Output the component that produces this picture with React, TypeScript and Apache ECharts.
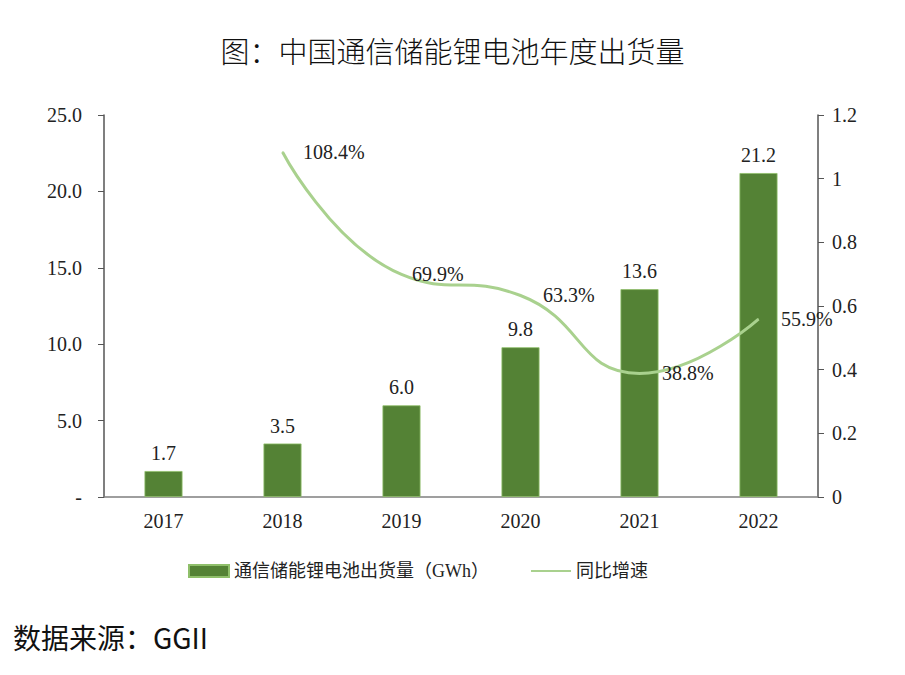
import * as echarts from 'echarts';
import { useEffect, useRef } from 'react';

const years = ['2017', '2018', '2019', '2020', '2021', '2022'];
const shipments = [1.7, 3.5, 6.0, 9.8, 13.6, 21.2];
const growth = [null, 1.084, 0.699, 0.633, 0.388, 0.559];
// label gap to the right of each growth point
const growthLabelGap = [20, 20, 10, 22, 22, 22];

const SERIF = "'Liberation Serif', 'Times New Roman', 'Noto Sans CJK SC', serif";
const SANS = "'Noto Sans CJK SC', 'Liberation Sans', sans-serif";

const App = () => {
    const chartRef = useRef<HTMLDivElement>(null);

    useEffect(() => {
        document.body.style.margin = '0';
        if (!chartRef.current) return;
        const chart = echarts.init(chartRef.current, null, { renderer: 'svg' });

        chart.setOption({
            animation: false,
            backgroundColor: '#fff',
            title: {
                text: '图：中国通信储能锂电池年度出货量',
                left: 'center',
                top: 30,
                textStyle: { fontFamily: SANS, fontSize: 29, fontWeight: 300, color: '#111' },
            },
            legend: {
                top: 557,
                left: 183,
                itemGap: 42,
                itemWidth: 40,
                itemHeight: 12,
                textStyle: { fontFamily: SERIF, fontSize: 18, color: '#222' },
                data: [
                    { name: '通信储能锂电池出货量（GWh）', icon: 'rect' },
                    { name: '同比增速', icon: 'path://M0,5L40,5L40,7L0,7Z' },
                ],
            },
            grid: { left: 104, right: 87, top: 115, bottom: 178 },
            xAxis: {
                type: 'category',
                data: years,
                axisLine: { lineStyle: { color: '#7f7f7f', width: 1.5 } },
                axisTick: { show: false },
                axisLabel: { fontFamily: SERIF, fontSize: 20, color: '#222', margin: 14 },
            },
            yAxis: [
                {
                    type: 'value',
                    min: 0,
                    max: 25,
                    interval: 5,
                    splitLine: { show: false },
                    axisLine: { show: true, lineStyle: { color: '#555', width: 1.5 } },
                    axisTick: { show: true, length: 6, lineStyle: { color: '#555' } },
                    axisLabel: {
                        fontFamily: SERIF,
                        fontSize: 20,
                        color: '#222',
                        margin: 22,
                        formatter: (v: number) => (v === 0 ? '-' : v.toFixed(1)),
                    },
                },
                {
                    type: 'value',
                    min: 0,
                    max: 1.2,
                    interval: 0.2,
                    splitLine: { show: false },
                    axisLine: { show: true, lineStyle: { color: '#555', width: 1.5 } },
                    axisTick: { show: true, length: 6, lineStyle: { color: '#555' } },
                    axisLabel: { fontFamily: SERIF, fontSize: 20, color: '#222', margin: 14 },
                },
            ],
            series: [
                {
                    name: '通信储能锂电池出货量（GWh）',
                    type: 'bar',
                    data: shipments,
                    barWidth: 38,
                    itemStyle: { color: '#548235', borderColor: '#8fbf6a', borderWidth: 0.8 },
                    label: {
                        show: true,
                        position: 'top',
                        distance: 8,
                        fontFamily: SERIF,
                        fontSize: 20,
                        color: '#222',
                        formatter: (p: any) => Number(p.value).toFixed(1),
                    },
                },
                {
                    name: '同比增速',
                    type: 'line',
                    yAxisIndex: 1,
                    data: growth.map((v, i) => ({ value: v, label: { distance: growthLabelGap[i] } })),
                    smooth: 0.5,
                    showSymbol: true,
                    symbol: 'circle',
                    symbolSize: 1,
                    lineStyle: { color: '#a9d18e', width: 3 },
                    itemStyle: { color: '#a9d18e' },
                    label: {
                        show: true,
                        position: 'right',
                        fontFamily: SERIF,
                        fontSize: 20,
                        color: '#222',
                        formatter: (p: any) => (p.value == null ? '' : (p.value * 100).toFixed(1) + '%'),
                    },
                },
            ],
            graphic: [
                {
                    type: 'text',
                    left: 13,
                    top: 623,
                    style: { text: '数据来源：GGII', font: `28px ${SANS}`, fill: '#111' },
                },
            ],
        });

        const onResize = () => chart.resize();
        window.addEventListener('resize', onResize);
        return () => {
            window.removeEventListener('resize', onResize);
            chart.dispose();
        };
    }, []);

    return <div ref={chartRef} style={{ width: 905, height: 675 }} />;
};

export default App;
